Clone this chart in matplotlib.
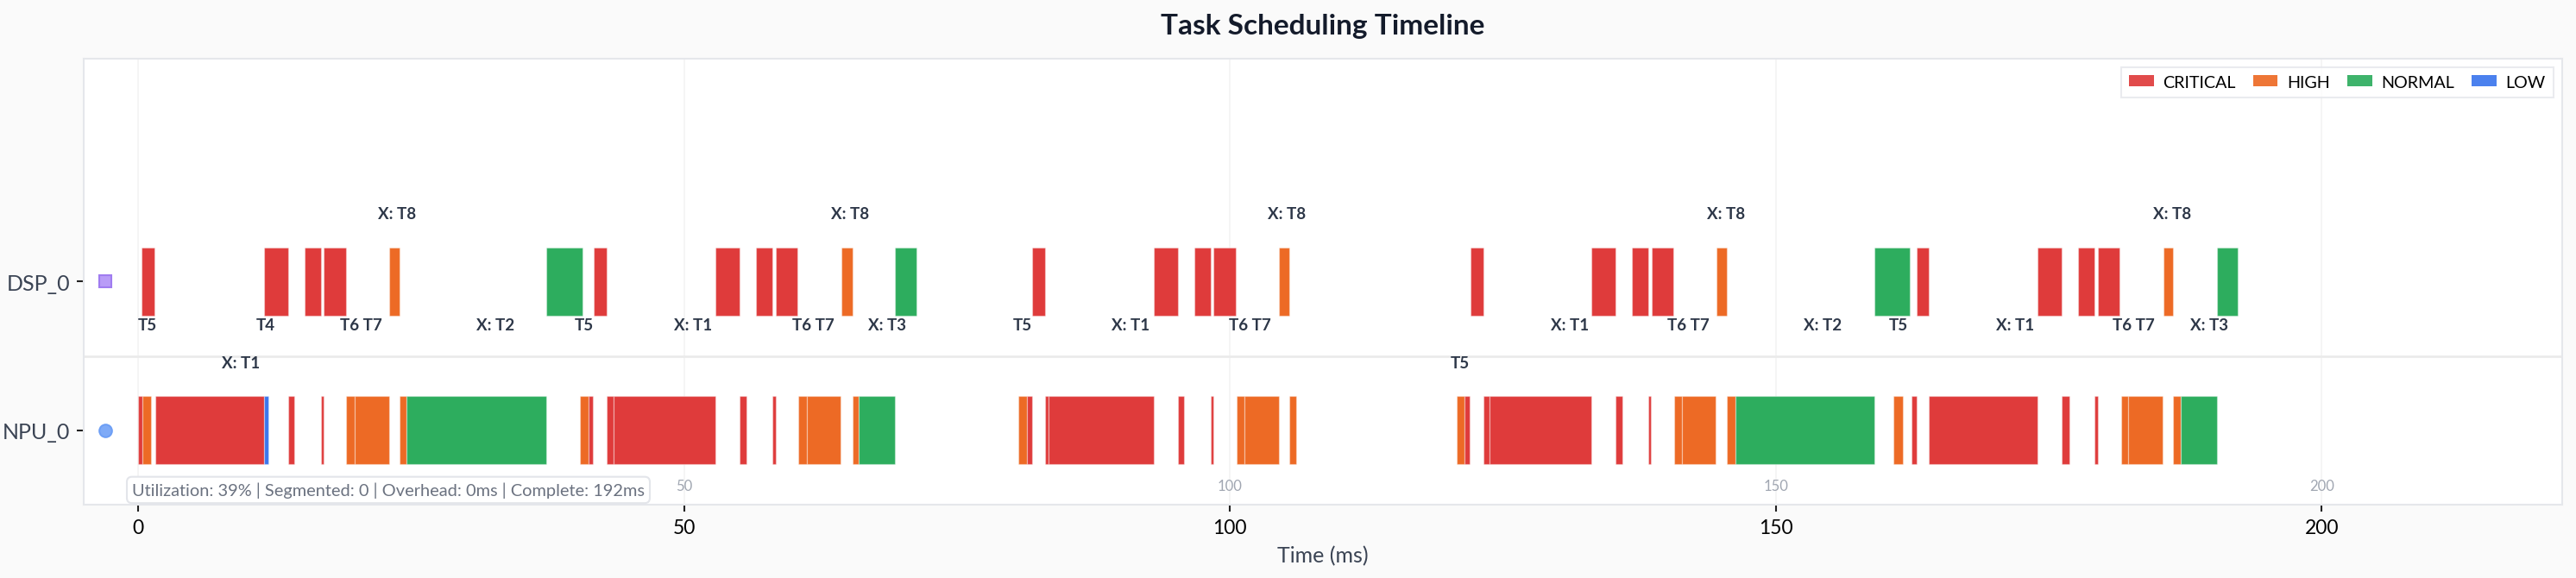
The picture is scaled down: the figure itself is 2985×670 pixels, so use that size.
import matplotlib
matplotlib.use("Agg")
import matplotlib.pyplot as plt
from matplotlib.patches import Patch

plt.rcParams['font.family'] = ['Lato', 'DejaVu Sans']

# resources (y rows) and priorities
resources = ['NPU_0', 'DSP_0']
priorities = ['CRITICAL', 'HIGH', 'NORMAL', 'LOW']
colores = {'CRITICAL': '#df3b3b', 'HIGH': '#ed6a25', 'NORMAL': '#2dad5e', 'LOW': '#3b76ed'}

# DSP_0 segments: start, end, priority
dsp_start = [0.3, 11.5, 15.2, 17.0, 23.0, 37.35, 41.7, 52.9, 56.6, 58.4, 64.4, 69.3,
             81.9, 93.0, 96.7, 98.5, 104.5, 122.0, 133.1, 136.8, 138.6, 144.6,
             159.0, 162.9, 174.0, 177.7, 179.5, 185.5, 190.4]
dsp_end = [1.5, 13.7, 16.7, 19.0, 23.9, 40.7, 42.9, 55.1, 58.1, 60.4, 65.4, 71.3,
           83.1, 95.2, 98.2, 100.5, 105.4, 123.2, 135.3, 138.3, 140.6, 145.5,
           162.3, 164.0, 176.2, 179.2, 181.5, 186.4, 192.3]
dsp_prio = ['CRITICAL', 'CRITICAL', 'CRITICAL', 'CRITICAL', 'HIGH', 'NORMAL', 'CRITICAL',
            'CRITICAL', 'CRITICAL', 'CRITICAL', 'HIGH', 'NORMAL',
            'CRITICAL', 'CRITICAL', 'CRITICAL', 'CRITICAL', 'HIGH',
            'CRITICAL', 'CRITICAL', 'CRITICAL', 'CRITICAL', 'HIGH',
            'NORMAL', 'CRITICAL', 'CRITICAL', 'CRITICAL', 'CRITICAL', 'HIGH', 'NORMAL']

# NPU_0 segments
npu_start = [0.0, 0.4, 1.55, 11.5, 13.7, 16.7, 19.0, 19.85, 23.9, 24.6,
             40.45, 41.25, 42.9, 43.5, 55.1, 58.1, 60.45, 61.25, 65.4, 66.0,
             80.65, 81.4, 83.1, 83.4, 95.2, 98.2, 100.6, 101.35, 105.45,
             120.8, 121.5, 123.2, 123.8, 135.3, 138.3, 140.66, 141.4, 145.5, 146.3,
             160.8, 162.4, 164.0, 176.2, 179.2, 181.6, 182.3, 186.4, 187.1]
npu_end = [0.35, 1.2, 11.5, 11.9, 14.3, 17.0, 19.85, 22.95, 24.6, 37.35,
           41.25, 41.65, 43.5, 52.9, 55.7, 58.4, 61.25, 64.3, 66.0, 69.3,
           81.4, 81.9, 83.4, 93.0, 95.8, 98.5, 101.35, 104.45, 106.1,
           121.5, 121.95, 123.8, 133.1, 135.95, 138.55, 141.4, 144.5, 146.3, 159.0,
           161.6, 162.9, 174.0, 176.9, 179.5, 182.3, 185.4, 187.1, 190.4]
npu_prio = ['CRITICAL', 'HIGH', 'CRITICAL', 'LOW', 'CRITICAL', 'CRITICAL', 'HIGH', 'HIGH', 'HIGH', 'NORMAL',
            'HIGH', 'CRITICAL', 'CRITICAL', 'CRITICAL', 'CRITICAL', 'CRITICAL', 'HIGH', 'HIGH', 'HIGH', 'NORMAL',
            'HIGH', 'CRITICAL', 'CRITICAL', 'CRITICAL', 'CRITICAL', 'CRITICAL', 'HIGH', 'HIGH', 'HIGH',
            'HIGH', 'CRITICAL', 'CRITICAL', 'CRITICAL', 'CRITICAL', 'CRITICAL', 'HIGH', 'HIGH', 'HIGH', 'NORMAL',
            'HIGH', 'CRITICAL', 'CRITICAL', 'CRITICAL', 'CRITICAL', 'HIGH', 'HIGH', 'HIGH', 'NORMAL']

# task labels
dsp_below_txt = ['T5', 'T4', 'T6 T7', 'X: T2', 'T5', 'X: T1', 'T6 T7', 'X: T3', 'T5', 'X: T1',
                 'T6 T7', 'X: T1', 'T6 T7', 'X: T2', 'T5', 'X: T1', 'T6 T7', 'X: T3']
dsp_below_x = [0.8, 11.7, 20.4, 32.7, 40.8, 50.8, 61.8, 68.6, 81.0, 90.9,
               101.85, 131.1, 142.0, 154.3, 161.2, 171.9, 182.8, 189.7]
dsp_above_txt = ['X: T8', 'X: T8', 'X: T8', 'X: T8', 'X: T8']
dsp_above_x = [23.7, 65.2, 105.2, 145.4, 186.3]
npu_above_txt = ['X: T1', 'T5']
npu_above_x = [9.4, 121.1]

xticks = [0, 50, 100, 150, 200]
stats = 'Utilization: 39% | Segmented: 0 | Overhead: 0ms | Complete: 192ms'

fig = plt.figure(figsize=(19.9, 4.4733), dpi=150, facecolor='#fafafa')
ax = fig.add_axes([0.0325, 0.1267, 0.962, 0.7705])
ax.set_facecolor('white')

alto = 0.46
for fila, inicio, fin, prio in [(1, dsp_start, dsp_end, dsp_prio), (0, npu_start, npu_end, npu_prio)]:
    ax.barh([fila] * len(inicio), [f - i for i, f in zip(inicio, fin)], left=inicio,
            height=alto, color=[colores[p] for p in prio],
            edgecolor=(1, 1, 1, 0.35), linewidth=0.6, zorder=3)

# etiquetas de tareas
estilo = dict(ha='center', va='center', fontsize=9, fontweight='bold', color='#2d3748', zorder=4)
for t, x in zip(dsp_below_txt, dsp_below_x):
    ax.text(x, 1 - 0.29, t, **estilo)
for t, x in zip(dsp_above_txt, dsp_above_x):
    ax.text(x, 1 + 0.457, t, **estilo)
for t, x in zip(npu_above_txt, npu_above_x):
    ax.text(x, 0.457, t, **estilo)

# marcadores de recurso
ax.plot(-3.0, 1, marker='s', ms=6.5, mfc='#b99cf7', mec='#a07cf0', mew=1, zorder=4, clip_on=False)
ax.plot(-3.0, 0, marker='o', ms=7, mfc='#7eaaf7', mec='#6e9ff5', mew=1, zorder=4, clip_on=False)

ax.axhline(0.5, color='#ebebeb', lw=1.3, zorder=1)
for x in xticks:
    ax.axvline(x, color='#f4f4f4', lw=0.8, zorder=0)
    if x > 0:
        ax.text(x, -0.375, str(x), ha='center', va='center', fontsize=8, color='#a0a6b1')

ax.set_xlim(-5, 222)
ax.set_ylim(-0.5, 2.5)
ax.set_yticks([0, 1])
ax.set_yticklabels(resources, fontsize=12, color='#3b4454')
ax.set_xticks(xticks)
ax.set_xticklabels([str(x) for x in xticks], fontsize=11, color='black')
ax.tick_params(axis='both', length=4, width=1, color='#222222')
ax.set_xlabel('Time (ms)', fontsize=12, color='#3b4454', labelpad=5)
for s in ax.spines.values():
    s.set_color('#e5e7eb')
    s.set_linewidth(1)

ax.set_title('Task Scheduling Timeline', fontsize=16, fontweight='bold', color='#141b2b', pad=14)

handles = [Patch(facecolor=colores[p], alpha=0.92, label=p) for p in priorities]
leg = ax.legend(handles=handles, loc='upper right', ncol=4, fontsize=9.5, frameon=True,
                fancybox=False, edgecolor='#e5e7eb', handlelength=1.45, handleheight=0.65,
                columnspacing=1.0, handletextpad=0.55, borderaxespad=0.5, borderpad=0.45)
leg.get_frame().set_linewidth(1)

ax.text(0.0195, 0.033, stats, transform=ax.transAxes, ha='left', va='center', fontsize=9.6,
        color='#6b7280', zorder=5,
        bbox=dict(boxstyle='round,pad=0.3,rounding_size=0.3', facecolor='white', edgecolor='#e3e5ea', lw=1))

fig.savefig('out.png', dpi=150, facecolor=fig.get_facecolor())
